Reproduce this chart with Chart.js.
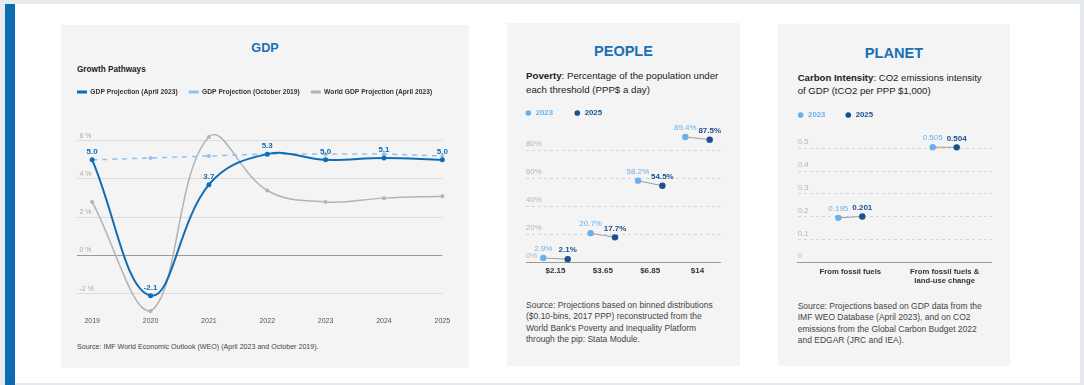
<!DOCTYPE html>
<html>
<head>
<meta charset="utf-8">
<script src="https://cdn.jsdelivr.net/npm/chart.js@4.4.0/dist/chart.umd.min.js"></script>
<style>
  html, body { margin: 0; padding: 0; }
  body { width: 1084px; height: 385px; background: #e6eaee; position: relative; overflow: hidden;
         font-family: "Liberation Sans", Arial, Helvetica, sans-serif; }
  #card { position: absolute; left: 5px; top: 4px; width: 1075px; height: 379px; background: #fff; }
  #bar { position: absolute; left: 5px; top: 4px; width: 10px; height: 381px; background: #0b6bb3; }
  .panel { position: absolute; background: #f4f4f4; }
  .ttl { position: absolute; text-align: center; font-weight: bold; color: #1a6fb5; white-space: nowrap; }
  .txt { position: absolute; white-space: nowrap; color: #222; }
  .src { position: absolute; white-space: nowrap; color: #444; }
  canvas { position: absolute; }
</style>
</head>
<body>
<div id="card"></div>
<div id="bar"></div>

<div class="panel" style="left:61px;top:25px;width:408px;height:343px"></div>
<div class="panel" style="left:507px;top:23px;width:233px;height:343px"></div>
<div class="panel" style="left:778px;top:24px;width:232px;height:342px"></div>

<!-- GDP -->
<div class="ttl" style="left:61px;width:408px;top:40px;font-size:12.6px;line-height:16px">GDP</div>
<div class="txt" style="left:77px;top:65px;font-size:8.2px;line-height:10px;font-weight:bold">Growth Pathways</div>
<canvas id="gdp" width="408" height="255" style="left:61px;top:75px"></canvas>
<div class="src" style="left:77px;top:342px;font-size:7.1px;line-height:10px">Source: IMF World Economic Outlook (WEO) (April 2023 and October 2019).</div>

<!-- PEOPLE -->
<div class="ttl" style="left:507px;width:233px;top:42px;font-size:14.5px;line-height:18px">PEOPLE</div>
<div class="txt" style="left:526px;top:69px;font-size:9.7px;line-height:14px"><b>Poverty</b>: Percentage of the population under<br>each threshold (PPP$ a day)</div>
<canvas id="people" width="230" height="197" style="left:500px;top:85px"></canvas>
<div class="src" style="left:526px;top:300px;font-size:8.5px;line-height:11.45px">Source: Projections based on binned distributions<br>($0.10-bins, 2017 PPP) reconstructed from the<br>World Bank's Poverty and Inequality Platform<br>through the pip: Stata Module.</div>

<!-- PLANET -->
<div class="ttl" style="left:778px;width:232px;top:44px;font-size:14.6px;line-height:18px">PLANET</div>
<div class="txt" style="left:797.7px;top:71px;font-size:9.6px;line-height:13px"><b>Carbon Intensity</b>: CO2 emissions intensity<br>of GDP (tCO2 per PPP $1,000)</div>
<canvas id="planet" width="230" height="201" style="left:776px;top:89px"></canvas>
<div class="src" style="left:797.7px;top:301px;font-size:8.5px;line-height:11.35px">Source: Projections based on GDP data from the<br>IMF WEO Database (April 2023), and on CO2<br>emissions from the Global Carbon Budget 2022<br>and EDGAR (JRC and IEA).</div>

<script>
// ---- data ----
const gdpYears = [2019, 2020, 2021, 2022, 2023, 2024, 2025];
const gdpApr2023 = [5.0, -2.1, 3.7, 5.3, 5.0, 5.1, 5.0];
const gdpOct2019 = [5.0, 5.1, 5.2, 5.3, 5.3, 5.3, 5.2];
const gdpWorld = [2.8, -2.9, 6.2, 3.4, 2.8, 3.0, 3.1];
const gdpYTicks = [-2, 0, 2, 4, 6];

const povertyLines = ['$2.15', '$3.65', '$6.85', '$14'];
const poverty2023 = [2.9, 20.7, 58.2, 89.4];
const poverty2025 = [2.1, 17.7, 54.5, 87.5];
const povertyYTicks = [0, 20, 40, 60, 80];

const carbonCats = ['From fossil fuels', ['From fossil fuels &', 'land-use change']];
const carbon2023 = [0.195, 0.505];
const carbon2025 = [0.201, 0.504];
const carbonYTicks = [0, 0.1, 0.2, 0.3, 0.4, 0.5];

Chart.defaults.font.family = '"Liberation Sans", Arial, Helvetica, sans-serif';
Chart.defaults.animation = false;
Chart.defaults.plugins.tooltip.enabled = false;

const BLUE = '#0e6db6';
const LIGHT = '#6cb0ea';
const NAVY = '#1c4f8e';

// value labels above points
const valueLabels = {
    id: 'valueLabels',
    afterDatasetsDraw(chart) {
        const ctx = chart.ctx;
        chart.data.datasets.forEach((ds, di) => {
            if (!ds.labelStyle) return;
            const st = ds.labelStyle;
            const meta = chart.getDatasetMeta(di);
            ctx.save();
            ctx.font = st.font;
            ctx.fillStyle = st.color;
            ctx.textAlign = 'center';
            ctx.textBaseline = 'middle';
            meta.data.forEach((pt, i) => {
                ctx.fillText(st.fmt(ds.data[i].y), pt.x, pt.y - st.dy);
            });
            ctx.restore();
        });
    }
};

// thin line joining the 2023 and 2025 dots
const connectors = {
    id: 'connectors',
    beforeDatasetsDraw(chart) {
        const a = chart.getDatasetMeta(0).data;
        const b = chart.getDatasetMeta(1).data;
        const ctx = chart.ctx;
        ctx.save();
        ctx.strokeStyle = '#9c9c9c';
        ctx.lineWidth = 1;
        a.forEach((p, i) => {
            ctx.beginPath();
            ctx.moveTo(p.x, p.y);
            ctx.lineTo(b[i].x, b[i].y);
            ctx.stroke();
        });
        ctx.restore();
    }
};

function lineLegendLabels(chart) {
    return chart.data.datasets.map((ds, i) => ({
        text: ds.label,
        fillStyle: ds.borderColor,
        strokeStyle: ds.borderColor,
        lineWidth: 0,
        fontColor: '#333',
        hidden: false,
        datasetIndex: i
    }));
}

function dotLegendLabels(chart) {
    return chart.data.datasets.map((ds, i) => ({
        text: ds.label,
        fillStyle: ds.pointBackgroundColor,
        strokeStyle: ds.pointBackgroundColor,
        lineWidth: 0,
        fontColor: ds.pointBackgroundColor,
        pointStyle: 'circle',
        hidden: false,
        datasetIndex: i
    }));
}

const pts = (xs, ys) => ys.map((v, i) => ({ x: xs[i], y: v }));

// ---- GDP line chart ----
new Chart(document.getElementById('gdp'), {
    type: 'line',
    data: {
        datasets: [
            {
                label: 'GDP Projection (April 2023)',
                data: pts(gdpYears, gdpApr2023),
                borderColor: BLUE, borderWidth: 2,
                pointRadius: 2.5, pointBackgroundColor: BLUE, pointBorderWidth: 0,
                tension: 0.4, clip: false,
                labelStyle: { font: 'bold 8px "Liberation Sans", Arial', color: BLUE, dy: 8, fmt: v => v.toFixed(1) }
            },
            {
                label: 'GDP Projection (October 2019)',
                data: pts(gdpYears, gdpOct2019),
                borderColor: '#8ec2ef', borderWidth: 1.5, borderDash: [5, 5],
                pointRadius: 2, pointBackgroundColor: '#8ec2ef', pointBorderWidth: 0,
                tension: 0.4, clip: false
            },
            {
                label: 'World GDP Projection (April 2023)',
                data: pts(gdpYears, gdpWorld),
                borderColor: '#b3b3b3', borderWidth: 1.5,
                pointRadius: 2, pointBackgroundColor: '#b3b3b3', pointBorderWidth: 0,
                tension: 0.4, clip: false
            }
        ]
    },
    options: {
        responsive: false,
        layout: { padding: { left: 5, right: 5, top: 2.65, bottom: 1.5 } },
        plugins: {
            legend: {
                position: 'top', align: 'start',
                labels: {
                    boxWidth: 10, boxHeight: 3, padding: 11,
                    font: { size: 6.7, weight: 'bold' },
                    generateLabels: lineLegendLabels
                }
            }
        },
        scales: {
            x: {
                type: 'linear', min: 2018.74, max: 2025,
                afterBuildTicks: s => { s.ticks = gdpYears.map(v => ({ value: v })); },
                grid: { display: false, drawTicks: false },
                border: { display: false },
                ticks: { color: '#555', font: { size: 7 }, padding: 3.6, maxRotation: 0, autoSkip: false,
                         callback: v => String(v) }
            },
            y: {
                min: -3, max: 7.85,
                afterBuildTicks: s => { s.ticks = gdpYTicks.map(v => ({ value: v })); },
                afterFit: s => { s.width = 11; },
                grid: { drawTicks: false, color: c => c.tick && c.tick.value === 0 ? '#9a9a9a' : '#dcdcdc' },
                border: { display: false },
                ticks: { mirror: true, padding: 2.5, labelOffset: -5, color: '#aaa', font: { size: 7 },
                         callback: v => v + ' %' }
            },
            yr: {
                position: 'right', display: true,
                afterFit: s => { s.width = 21.7; },
                grid: { display: false, drawTicks: false },
                border: { display: false },
                ticks: { display: false }
            }
        }
    },
    plugins: [valueLabels]
});

// ---- dumbbell charts ----
function dumbbell(id, cats, v23, v25, yTicks, cfg) {
    const x23 = cats.map((c, i) => i - cfg.dodge);
    const x25 = cats.map((c, i) => i + cfg.dodge);
    return new Chart(document.getElementById(id), {
        type: 'scatter',
        data: {
            datasets: [
                {
                    label: '2023', data: pts(x23, v23),
                    pointRadius: 3.2, pointBackgroundColor: LIGHT, pointBorderWidth: 0, clip: false,
                    labelStyle: { font: '8px "Liberation Sans", Arial', color: LIGHT, dy: 9, fmt: cfg.fmt }
                },
                {
                    label: '2025', data: pts(x25, v25),
                    pointRadius: 3.2, pointBackgroundColor: NAVY, pointBorderWidth: 0, clip: false,
                    labelStyle: { font: 'bold 8px "Liberation Sans", Arial', color: NAVY, dy: 9, fmt: cfg.fmt }
                }
            ]
        },
        options: {
            responsive: false,
            layout: { padding: cfg.pad },
            plugins: {
                legend: {
                    position: 'top', align: 'start',
                    labels: {
                        usePointStyle: true, boxWidth: 7, boxHeight: 4, padding: cfg.legendPad,
                        font: { size: 7.8, weight: 'bold' },
                        generateLabels: dotLegendLabels
                    }
                }
            },
            scales: {
                x: {
                    type: 'linear', min: cfg.xmin, max: cfg.xmax,
                    afterBuildTicks: s => { s.ticks = cats.map((c, i) => ({ value: i })); },
                    grid: { display: false, drawTicks: false },
                    border: { display: true, color: '#9a9a9a', width: 1 },
                    ticks: { color: '#333', font: { size: cfg.xFont, weight: 'bold', lineHeight: 1.15 },
                             padding: cfg.xPad, maxRotation: 0, autoSkip: false,
                             callback: v => cats[v] }
                },
                y: {
                    min: 0, max: cfg.ymax,
                    afterBuildTicks: s => { s.ticks = yTicks.map(v => ({ value: v })); },
                    afterFit: s => { s.width = cfg.yw; },
                    grid: { drawTicks: false, color: '#d6d6d6' },
                    border: { display: false, dash: [3, 3] },
                    ticks: { mirror: true, padding: 0, labelOffset: -6, color: '#b5b5b5', font: { size: 7.8 },
                             callback: cfg.yFmt }
                }
            }
        },
        plugins: [connectors, valueLabels]
    });
}

dumbbell('people', povertyLines, poverty2023, poverty2025, povertyYTicks, {
    dodge: 0.258, xmin: -0.623, xmax: 3.49, ymax: 96.6, yw: 21.95, legendPad: 20.75,
    pad: { left: 4.05, right: 9.3, top: 3.35, bottom: 2.3 },
    xFont: 8, xPad: 4.2,
    fmt: v => v.toFixed(1) + '%',
    yFmt: v => v + '%'
});

dumbbell('planet', carbonCats, carbon2023, carbon2025, carbonYTicks, {
    dodge: 0.127, xmin: -0.557, xmax: 1.498, ymax: 0.585, yw: 19.85, legendPad: 19.35,
    pad: { left: 1.85, right: 14.3, top: 2.75, bottom: 0 },
    xFont: 7.7, xPad: 5,
    fmt: v => v.toFixed(3),
    yFmt: v => (v === 0 ? '0' : v.toFixed(1))
});
</script>
</body>
</html>
